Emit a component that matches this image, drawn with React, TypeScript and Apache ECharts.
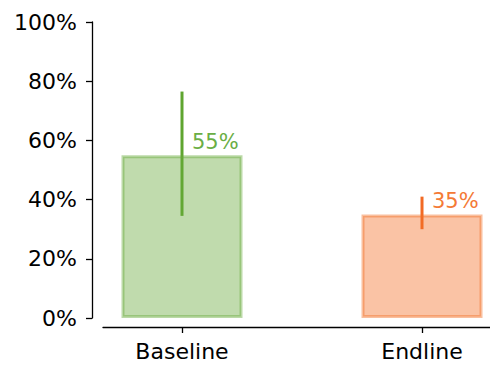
import React, { useEffect, useRef } from "react";
import * as echarts from "echarts";

// Share of respondents, with confidence interval bounds (percent)
const categories = ["Baseline", "Endline"];
const shares = [55, 35];
const lower = [34.5, 30];
const upper = [76.5, 41];
const yTicks = [0, 20, 40, 60, 80, 100];

const fills = ["rgba(104,170,60,0.42)", "rgba(242,112,40,0.42)"];
const edges = ["rgba(104,170,60,0.45)", "rgba(242,112,40,0.45)"];
const errColors = ["#5fa530", "#f26a24"];
const textColors = ["#6aae45", "#f47a36"];

const FONT = "DejaVu Sans";
const FS = 22;

export default function App() {
  const ref = useRef<HTMLDivElement>(null);

  useEffect(() => {
    if (!ref.current) return;
    const chart = echarts.init(ref.current, null, { renderer: "svg" });
    const xMin = -0.375;
    const xMax = 1.2833;
    chart.setOption({
      animation: false,
      textStyle: { fontFamily: FONT },
      grid: [
        { left: 92, right: 0, top: 22, bottom: 47 },
        { left: 103, right: 0, top: 22, bottom: 38 },
      ],
      xAxis: [
        {
          type: "value",
          gridIndex: 0,
          min: xMin,
          max: xMax,
          offset: 9,
          splitLine: { show: false },
          axisLine: { show: false, onZero: false },
          axisTick: {
            show: true,
            customValues: [0, 1],
            length: 6,
            lineStyle: { color: "#000", width: 1.3 },
          },
          axisLabel: {
            customValues: [0, 1],
            formatter: (v: number) => categories[Math.round(v)] ?? "",
            fontSize: FS,
            color: "#000",
            margin: 13,
            fontFamily: FONT,
          },
        },
        {
          type: "value",
          gridIndex: 1,
          min: 0,
          max: 1,
          splitLine: { show: false },
          axisLine: { show: true, onZero: false, lineStyle: { color: "#000", width: 1.3 } },
          axisTick: { show: false },
          axisLabel: { show: false },
        },
      ],
      yAxis: [
        {
          type: "value",
          gridIndex: 0,
          min: 0,
          max: 100,
          interval: 20,
          splitLine: { show: false },
          axisLine: { show: true, onZero: false, lineStyle: { color: "#000", width: 1.3 } },
          axisTick: { show: true, length: 6, lineStyle: { color: "#000", width: 1.3 } },
          axisLabel: {
            formatter: (v: number) => (yTicks.includes(v) ? `${v}%` : ""),
            fontSize: FS,
            color: "#000",
            margin: 15,
            fontFamily: FONT,
          },
        },
        {
          type: "value",
          gridIndex: 1,
          show: false,
          min: 0,
          max: 100,
        },
      ],
      series: [
        {
          type: "bar",
          xAxisIndex: 0,
          yAxisIndex: 0,
          barWidth: 121,
          data: shares.map((v, i) => ({
            value: [i, v],
            itemStyle: {
              color: fills[i],
              borderColor: edges[i],
              borderWidth: 3,
            },
          })),
        },
        {
          type: "custom",
          xAxisIndex: 0,
          yAxisIndex: 0,
          data: shares.map((v, i) => [i, v, lower[i], upper[i]]),
          renderItem: (params: any, api: any) => {
            const i = params.dataIndex;
            const x = api.value(0);
            const top = api.coord([x, api.value(1)]);
            const lo = api.coord([x, api.value(2)]);
            const hi = api.coord([x, api.value(3)]);
            return {
              type: "group",
              children: [
                {
                  type: "line",
                  shape: { x1: lo[0], y1: lo[1], x2: hi[0], y2: hi[1] },
                  style: { stroke: errColors[i], lineWidth: 3 },
                },
                {
                  type: "text",
                  x: top[0] + 10,
                  y: top[1] - 13,
                  style: {
                    text: `${shares[i]}%`,
                    fill: textColors[i],
                    fontSize: 21,
                    fontFamily: FONT,
                    verticalAlign: "middle",
                    align: "left",
                  },
                },
              ],
            };
          },
        },
      ],
    });
    return () => chart.dispose();
  }, []);

  return (
    <div
      ref={ref}
      style={{ position: "absolute", left: 0, top: 0, width: 490, height: 365 }}
    />
  );
}
